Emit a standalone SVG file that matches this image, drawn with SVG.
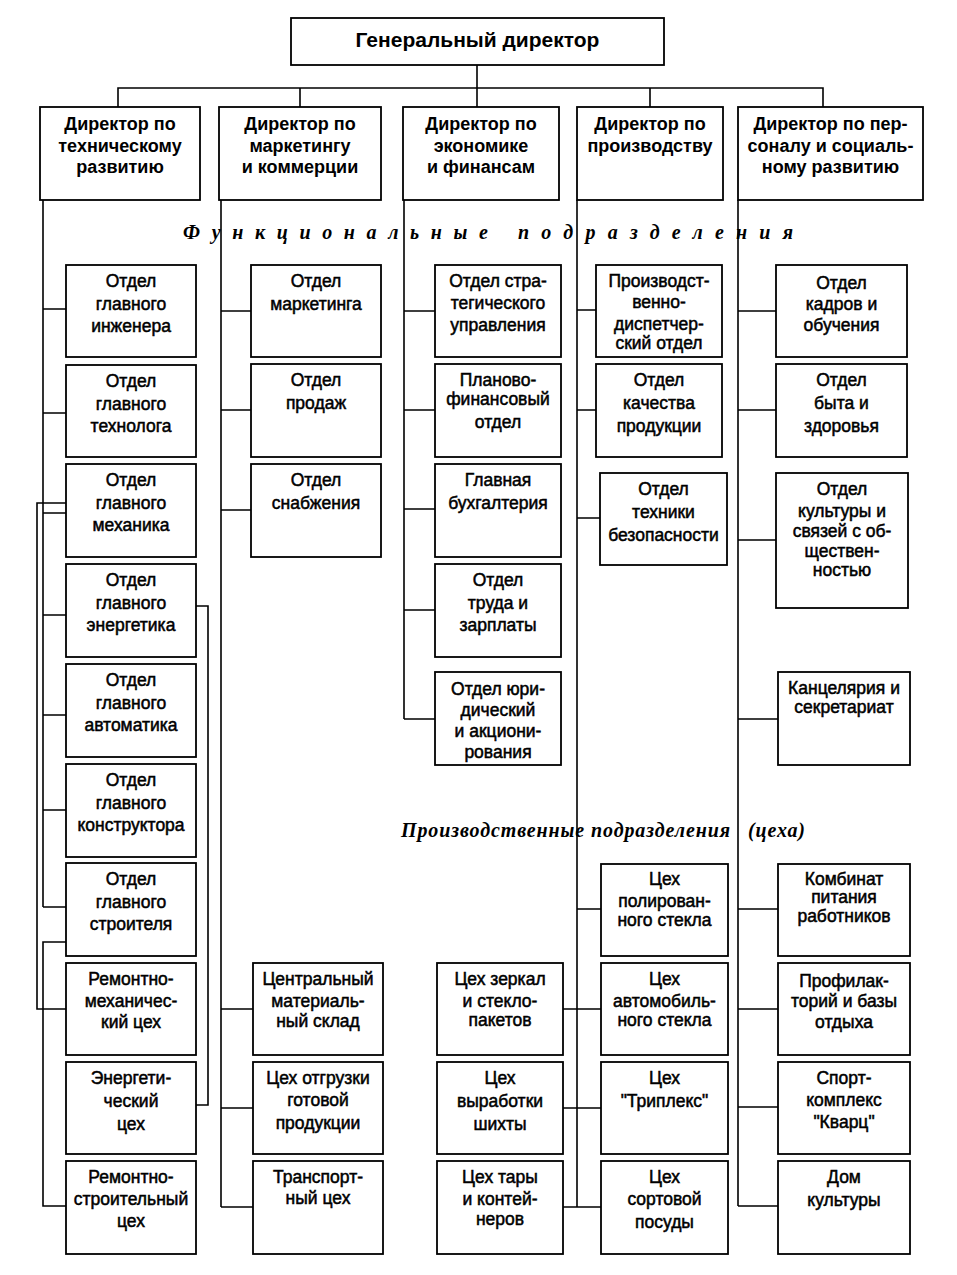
<svg xmlns="http://www.w3.org/2000/svg" width="957" height="1275" viewBox="0 0 957 1275">
<style>
.box{fill:#fff;stroke:#000;stroke-width:1.8}
.t{font-family:"Liberation Sans",Arial,sans-serif;font-size:17.5px;text-anchor:middle;fill:#000;stroke:#000;stroke-width:0.5}
.d{font-weight:bold;font-size:18px;stroke-width:0}
.g{font-weight:bold;font-size:21px;stroke-width:0}
.ln{stroke:#000;stroke-width:1.6;fill:none}
.it{font-family:"Liberation Serif","Times New Roman",serif;font-style:italic;font-weight:bold;font-size:20px;fill:#000}
</style>
<rect width="957" height="1275" fill="#fff"/>
<g id="connectors" class="ln">
<path d="M118,107 V88 H823 V107 M300,88 V107 M477,65 V107 M650,88 V107"/>
<path d="M43,200 V907 M43,309 H66 M43,413 H66 M43,513 H66 M43,615 H66 M43,715 H66 M43,810 H66 M43,907 H66"/>
<path d="M66,503 H37 V1009 H66"/>
<path d="M66,942 H43 V1206 H66"/>
<path d="M196,606 H208 V1105 H196"/>
<path d="M221,200 V1207 M221,311 H251 M221,410 H251 M221,510 H251 M221,1009 H253 M221,1108 H253 M221,1207 H253"/>
<path d="M404,200 V719 M404,311 H435 M404,410 H435 M404,509 H435 M404,610 H435 M404,719 H435"/>
<path d="M577,200 V1207 M577,310 H596 M577,410 H596 M577,518 H600 M577,909 H601 M577,1009 H601 M577,1108 H601 M577,1207 H601 M563,1009 H577 M563,1108 H577 M563,1207 H577"/>
<path d="M738,200 V1206 M738,311 H776 M738,410 H776 M738,540 H776 M738,719 H778 M738,909 H778 M738,1009 H778 M738,1107 H778 M738,1206 H778"/>
</g>
<g id="gen_dir"><rect class="box" x="291" y="18" width="373" height="47"/><text class="t g" x="477.5" y="47">Генеральный директор</text></g>
<g id="dir_tech"><rect class="box" x="40" y="107" width="160" height="93"/><text class="t d"><tspan x="120" y="130">Директор по</tspan><tspan x="120" y="152">техническому</tspan><tspan x="120" y="173">развитию</tspan></text></g>
<g id="dir_mkt"><rect class="box" x="219" y="107" width="162" height="93"/><text class="t d"><tspan x="300" y="130">Директор по</tspan><tspan x="300" y="152">маркетингу</tspan><tspan x="300" y="173">и коммерции</tspan></text></g>
<g id="dir_econ"><rect class="box" x="403" y="107" width="156" height="93"/><text class="t d"><tspan x="481" y="130">Директор по</tspan><tspan x="481" y="152">экономике</tspan><tspan x="481" y="173">и финансам</tspan></text></g>
<g id="dir_prod"><rect class="box" x="577" y="107" width="146" height="93"/><text class="t d"><tspan x="650" y="130">Директор по</tspan><tspan x="650" y="152">производству</tspan></text></g>
<g id="dir_pers"><rect class="box" x="738" y="107" width="185" height="93"/><text class="t d"><tspan x="830.5" y="130">Директор по пер-</tspan><tspan x="830.5" y="152">соналу и социаль-</tspan><tspan x="830.5" y="173">ному развитию</tspan></text></g>
<text class="it" x="183" y="239" textLength="305" lengthAdjust="spacing">Функциональные</text>
<text class="it" x="518" y="239" textLength="275" lengthAdjust="spacing">подразделения</text>
<text class="it" x="401" y="837" textLength="329" lengthAdjust="spacing">Производственные подразделения</text>
<text class="it" x="748" y="837" textLength="57" lengthAdjust="spacing">(цеха)</text>
<g id="n_ingener"><rect class="box" x="66" y="265" width="130" height="92"/><text class="t"><tspan x="131" y="287">Отдел</tspan><tspan x="131" y="310">главного</tspan><tspan x="131" y="332">инженера</tspan></text></g>
<g id="n_tehnolog"><rect class="box" x="66" y="365" width="130" height="92"/><text class="t"><tspan x="131" y="387">Отдел</tspan><tspan x="131" y="410">главного</tspan><tspan x="131" y="432">технолога</tspan></text></g>
<g id="n_mehanik"><rect class="box" x="66" y="464" width="130" height="93"/><text class="t"><tspan x="131" y="486">Отдел</tspan><tspan x="131" y="509">главного</tspan><tspan x="131" y="531">механика</tspan></text></g>
<g id="n_energetik"><rect class="box" x="66" y="564" width="130" height="93"/><text class="t"><tspan x="131" y="586">Отдел</tspan><tspan x="131" y="609">главного</tspan><tspan x="131" y="631">энергетика</tspan></text></g>
<g id="n_avtomatik"><rect class="box" x="66" y="664" width="130" height="93"/><text class="t"><tspan x="131" y="686">Отдел</tspan><tspan x="131" y="709">главного</tspan><tspan x="131" y="731">автоматика</tspan></text></g>
<g id="n_konstruktor"><rect class="box" x="66" y="764" width="130" height="93"/><text class="t"><tspan x="131" y="786">Отдел</tspan><tspan x="131" y="809">главного</tspan><tspan x="131" y="831">конструктора</tspan></text></g>
<g id="n_stroitel"><rect class="box" x="66" y="863" width="130" height="93"/><text class="t"><tspan x="131" y="885">Отдел</tspan><tspan x="131" y="908">главного</tspan><tspan x="131" y="930">строителя</tspan></text></g>
<g id="n_remmeh"><rect class="box" x="66" y="963" width="130" height="92"/><text class="t"><tspan x="131" y="985">Ремонтно-</tspan><tspan x="131" y="1007">механичес-</tspan><tspan x="131" y="1028">кий цех</tspan></text></g>
<g id="n_energceh"><rect class="box" x="66" y="1062" width="130" height="92"/><text class="t"><tspan x="131" y="1084">Энергети-</tspan><tspan x="131" y="1107">ческий</tspan><tspan x="131" y="1130">цех</tspan></text></g>
<g id="n_remstr"><rect class="box" x="66" y="1161" width="130" height="93"/><text class="t"><tspan x="131" y="1183">Ремонтно-</tspan><tspan x="131" y="1205">строительный</tspan><tspan x="131" y="1227">цех</tspan></text></g>
<g id="n_marketing"><rect class="box" x="251" y="265" width="130" height="92"/><text class="t"><tspan x="316" y="287">Отдел</tspan><tspan x="316" y="310">маркетинга</tspan></text></g>
<g id="n_prodazh"><rect class="box" x="251" y="364" width="130" height="93"/><text class="t"><tspan x="316" y="386">Отдел</tspan><tspan x="316" y="409">продаж</tspan></text></g>
<g id="n_snab"><rect class="box" x="251" y="464" width="130" height="93"/><text class="t"><tspan x="316" y="486">Отдел</tspan><tspan x="316" y="509">снабжения</tspan></text></g>
<g id="n_sklad"><rect class="box" x="253" y="963" width="130" height="92"/><text class="t"><tspan x="318" y="985">Центральный</tspan><tspan x="318" y="1007">материаль-</tspan><tspan x="318" y="1027">ный склад</tspan></text></g>
<g id="n_otgruz"><rect class="box" x="253" y="1062" width="130" height="92"/><text class="t"><tspan x="318" y="1084">Цех отгрузки</tspan><tspan x="318" y="1106">готовой</tspan><tspan x="318" y="1129">продукции</tspan></text></g>
<g id="n_transport"><rect class="box" x="253" y="1161" width="130" height="93"/><text class="t"><tspan x="318" y="1183">Транспорт-</tspan><tspan x="318" y="1204">ный цех</tspan></text></g>
<g id="n_strateg"><rect class="box" x="435" y="265" width="126" height="92"/><text class="t"><tspan x="498" y="287">Отдел стра-</tspan><tspan x="498" y="309">тегического</tspan><tspan x="498" y="331">управления</tspan></text></g>
<g id="n_planfin"><rect class="box" x="435" y="364" width="126" height="93"/><text class="t"><tspan x="498" y="386">Планово-</tspan><tspan x="498" y="405">финансовый</tspan><tspan x="498" y="428">отдел</tspan></text></g>
<g id="n_buh"><rect class="box" x="435" y="464" width="126" height="93"/><text class="t"><tspan x="498" y="486">Главная</tspan><tspan x="498" y="509">бухгалтерия</tspan></text></g>
<g id="n_trud"><rect class="box" x="435" y="564" width="126" height="93"/><text class="t"><tspan x="498" y="586">Отдел</tspan><tspan x="498" y="609">труда и</tspan><tspan x="498" y="631">зарплаты</tspan></text></g>
<g id="n_yur"><rect class="box" x="435" y="672" width="126" height="93"/><text class="t"><tspan x="498" y="695">Отдел юри-</tspan><tspan x="498" y="716">дический</tspan><tspan x="498" y="737">и акциони-</tspan><tspan x="498" y="758">рования</tspan></text></g>
<g id="n_zerkal"><rect class="box" x="437" y="963" width="126" height="92"/><text class="t"><tspan x="500" y="985">Цех зеркал</tspan><tspan x="500" y="1007">и стекло-</tspan><tspan x="500" y="1026">пакетов</tspan></text></g>
<g id="n_shihta"><rect class="box" x="437" y="1062" width="126" height="92"/><text class="t"><tspan x="500" y="1084">Цех</tspan><tspan x="500" y="1107">выработки</tspan><tspan x="500" y="1130">шихты</tspan></text></g>
<g id="n_tara"><rect class="box" x="437" y="1161" width="126" height="93"/><text class="t"><tspan x="500" y="1183">Цех тары</tspan><tspan x="500" y="1205">и контей-</tspan><tspan x="500" y="1225">неров</tspan></text></g>
<g id="n_dispetch"><rect class="box" x="596" y="265" width="126" height="92"/><text class="t"><tspan x="659" y="287">Производст-</tspan><tspan x="659" y="308">венно-</tspan><tspan x="659" y="330">диспетчер-</tspan><tspan x="659" y="349">ский отдел</tspan></text></g>
<g id="n_kachestvo"><rect class="box" x="596" y="364" width="126" height="93"/><text class="t"><tspan x="659" y="386">Отдел</tspan><tspan x="659" y="409">качества</tspan><tspan x="659" y="432">продукции</tspan></text></g>
<g id="n_tb"><rect class="box" x="600" y="473" width="127" height="92"/><text class="t"><tspan x="663.5" y="495">Отдел</tspan><tspan x="663.5" y="518">техники</tspan><tspan x="663.5" y="541">безопасности</tspan></text></g>
<g id="n_polir"><rect class="box" x="601" y="864" width="127" height="92"/><text class="t"><tspan x="664.5" y="885">Цех</tspan><tspan x="664.5" y="907">полирован-</tspan><tspan x="664.5" y="926">ного стекла</tspan></text></g>
<g id="n_avto"><rect class="box" x="601" y="963" width="127" height="92"/><text class="t"><tspan x="664.5" y="985">Цех</tspan><tspan x="664.5" y="1007">автомобиль-</tspan><tspan x="664.5" y="1026">ного стекла</tspan></text></g>
<g id="n_triplex"><rect class="box" x="601" y="1062" width="127" height="92"/><text class="t"><tspan x="664.5" y="1084">Цех</tspan><tspan x="664.5" y="1107">"Триплекс"</tspan></text></g>
<g id="n_sort"><rect class="box" x="601" y="1161" width="127" height="93"/><text class="t"><tspan x="664.5" y="1183">Цех</tspan><tspan x="664.5" y="1205">сортовой</tspan><tspan x="664.5" y="1228">посуды</tspan></text></g>
<g id="n_kadry"><rect class="box" x="776" y="265" width="131" height="92"/><text class="t"><tspan x="841.5" y="289">Отдел</tspan><tspan x="841.5" y="310">кадров и</tspan><tspan x="841.5" y="331">обучения</tspan></text></g>
<g id="n_byt"><rect class="box" x="776" y="364" width="131" height="93"/><text class="t"><tspan x="841.5" y="386">Отдел</tspan><tspan x="841.5" y="409">быта и</tspan><tspan x="841.5" y="432">здоровья</tspan></text></g>
<g id="n_kultura"><rect class="box" x="776" y="473" width="132" height="135"/><text class="t"><tspan x="842" y="495">Отдел</tspan><tspan x="842" y="517">культуры и</tspan><tspan x="842" y="537">связей с об-</tspan><tspan x="842" y="557">ществен-</tspan><tspan x="842" y="576">ностью</tspan></text></g>
<g id="n_kancel"><rect class="box" x="778" y="672" width="132" height="93"/><text class="t"><tspan x="844" y="694">Канцелярия и</tspan><tspan x="844" y="713">секретариат</tspan></text></g>
<g id="n_kombinat"><rect class="box" x="778" y="864" width="132" height="92"/><text class="t"><tspan x="844" y="885">Комбинат</tspan><tspan x="844" y="903">питания</tspan><tspan x="844" y="922">работников</tspan></text></g>
<g id="n_profil"><rect class="box" x="778" y="963" width="132" height="92"/><text class="t"><tspan x="844" y="987">Профилак-</tspan><tspan x="844" y="1007">торий и базы</tspan><tspan x="844" y="1028">отдыха</tspan></text></g>
<g id="n_sport"><rect class="box" x="778" y="1062" width="132" height="92"/><text class="t"><tspan x="844" y="1084">Спорт-</tspan><tspan x="844" y="1106">комплекс</tspan><tspan x="844" y="1128">"Кварц"</tspan></text></g>
<g id="n_dom"><rect class="box" x="778" y="1161" width="132" height="93"/><text class="t"><tspan x="844" y="1183">Дом</tspan><tspan x="844" y="1206">культуры</tspan></text></g>
</svg>
